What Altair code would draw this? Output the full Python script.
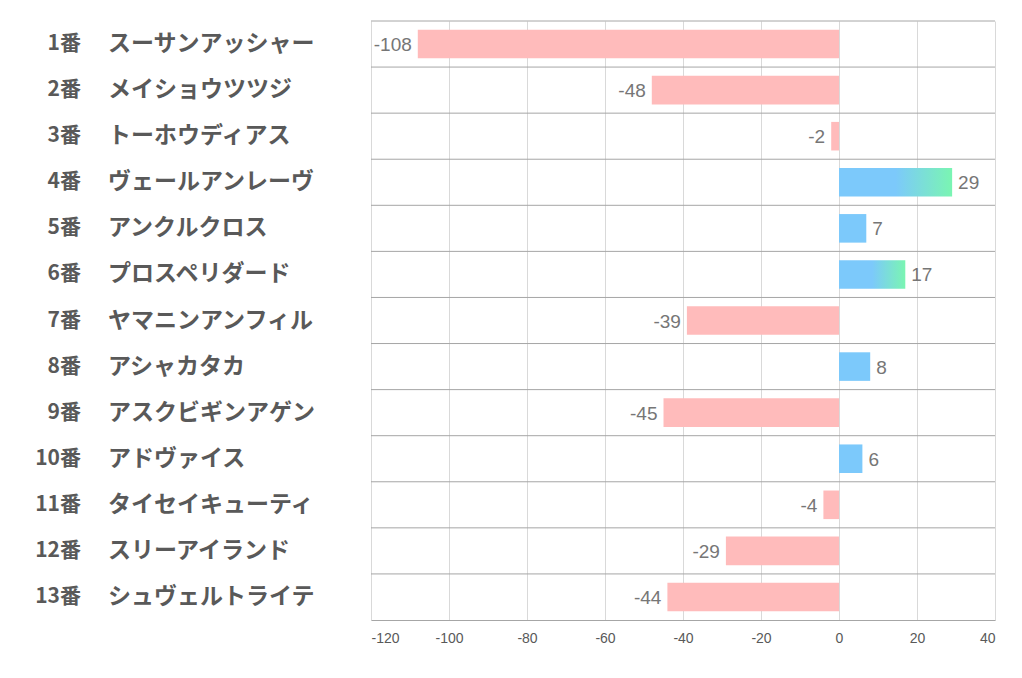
import altair as alt
import pandas as pd

nums = ["1番", "2番", "3番", "4番", "5番", "6番", "7番", "8番", "9番", "10番", "11番", "12番", "13番"]
names = ["スーサンアッシャー", "メイショウツツジ", "トーホウディアス", "ヴェールアンレーヴ", "アンクルクロス",
         "プロスペリダード", "ヤマニンアンフィル", "アシャカタカ", "アスクビギンアゲン", "アドヴァイス",
         "タイセイキューティ", "スリーアイランド", "シュヴェルトライテ"]
values = [-108, -48, -2, 29, 7, 17, -39, 8, -45, 6, -4, -29, -44]
x_ticks = [-120, -100, -80, -60, -40, -20, 0, 20, 40]

df = pd.DataFrame({"num": nums, "name": names, "value": values})

W, H = 624, 599
band = alt.Scale(domain=nums, paddingInner=0.38, paddingOuter=0.19)
ybar = alt.Y("num:N", sort=nums, axis=None, scale=band)
xq = alt.X("value:Q", scale=alt.Scale(domain=[-120, 40], nice=False),
           axis=alt.Axis(values=x_ticks, title=None, grid=True, gridColor="#d9d9d9",
                         ticks=False, domain=True, domainColor="#a6a6a6", labelColor="#595959",
                         labelFontSize=14, labelFont="Liberation Sans", labelPadding=11,
                         labelExpr="toString(datum.value)"))

base = alt.Chart(df).transform_calculate(label="toString(datum.value)")

rules = alt.Chart(df).mark_rule(color="#a6a6a6", strokeWidth=1).encode(
    y=alt.Y("num:N", sort=nums, axis=None, bandPosition=0,
            scale=alt.Scale(domain=nums, paddingInner=0, paddingOuter=0)),
    x=alt.value(0), x2=alt.value(W))

neg = base.transform_filter("datum.value < 0").mark_bar(color="#ffbbbb").encode(x=xq, x2=alt.datum(0), y=ybar)
pos_small = base.transform_filter("datum.value >= 0 && datum.value <= 10").mark_bar(color="#7cc9fb").encode(
    x=alt.X("value:Q"), x2=alt.datum(0), y=ybar)
grad = alt.Gradient(gradient="linear", x1=0, x2=1, y1=0, y2=0,
                    stops=[alt.GradientStop(color="#7cc9fb", offset=0),
                           alt.GradientStop(color="#7cc9fb", offset=0.5),
                           alt.GradientStop(color="#7af5b2", offset=1)])
pos_big = base.transform_filter("datum.value > 10").mark_bar(color=grad).encode(
    x=alt.X("value:Q"), x2=alt.datum(0), y=ybar)

lab_font = "Liberation Sans"
neg_lab = base.transform_filter("datum.value < 0").mark_text(
    align="right", baseline="middle", dx=-6, dy=1, fontSize=19, color="#767676", font=lab_font).encode(
    x=alt.X("value:Q"), y=ybar, text="label:N")
pos_lab = base.transform_filter("datum.value >= 0").mark_text(
    align="left", baseline="middle", dx=6, dy=1, fontSize=19, color="#767676", font=lab_font).encode(
    x=alt.X("value:Q"), y=ybar, text="label:N")

num_lab = base.mark_text(align="right", baseline="middle", fontSize=21, fontWeight="bold",
                         color="#595959", font="Noto Sans CJK JP").encode(
    x=alt.value(-290), y=ybar, text="num:N")
name_lab = base.mark_text(align="left", baseline="middle", fontSize=23, fontWeight="bold",
                          color="#595959", font="Noto Sans CJK JP").encode(
    x=alt.value(-263), y=ybar, text="name:N")

inner = alt.layer(neg, pos_small, pos_big, neg_lab, pos_lab, num_lab, name_lab)

chart = alt.layer(rules, inner).resolve_scale(y="independent").properties(
    width=W, height=H,
    autosize=alt.AutoSizeParams(type="none"),
    padding={"left": 363, "top": 13, "right": 19, "bottom": 50},
    background="white",
).configure_view(stroke=None)

chart.save("out.html", embed_options={"renderer": "svg", "actions": False})
